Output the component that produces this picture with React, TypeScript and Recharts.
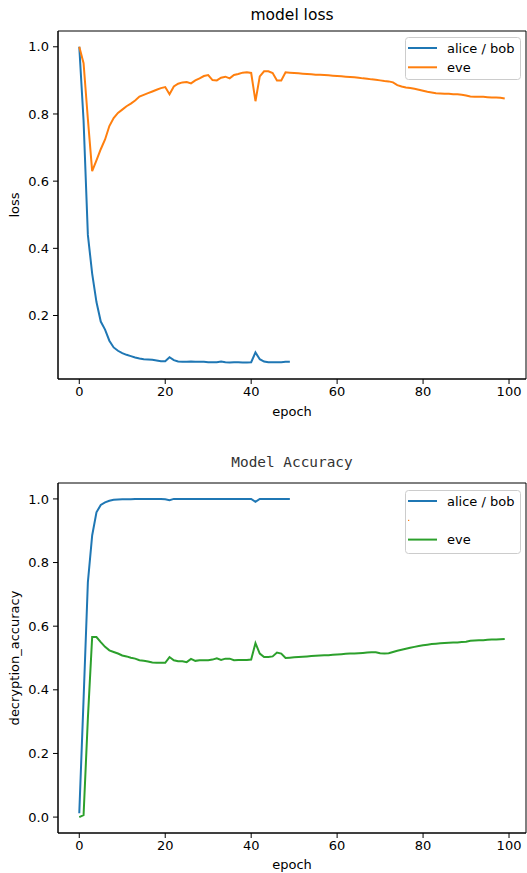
import React from 'react';
import { LineChart, Line, XAxis, YAxis, ReferenceArea } from 'recharts';

// epochs 0..99
const epochs: number[] = Array.from({ length: 100 }, (_, i) => i);

const aliceLoss: number[] = [
    1.0, 0.78, 0.44, 0.325, 0.24, 0.182, 0.158, 0.125, 0.105, 0.095,
    0.088, 0.083, 0.079, 0.075, 0.072, 0.07, 0.069, 0.068, 0.066, 0.064,
    0.064, 0.076, 0.067, 0.063, 0.062, 0.062, 0.063, 0.062, 0.062, 0.062,
    0.061, 0.061, 0.061, 0.063, 0.061, 0.06, 0.061, 0.061, 0.06, 0.06,
    0.061, 0.09, 0.07, 0.063, 0.061, 0.061, 0.061, 0.061, 0.062, 0.062,
];

const eveLoss: number[] = [
    1.0, 0.951, 0.785, 0.63, 0.662, 0.695, 0.724, 0.764, 0.788, 0.803,
    0.813, 0.823, 0.831, 0.84, 0.852, 0.857, 0.862, 0.867, 0.872, 0.877,
    0.88, 0.859, 0.882, 0.89, 0.894, 0.895, 0.891, 0.9, 0.906, 0.913,
    0.916, 0.901, 0.9, 0.908, 0.911, 0.906, 0.916, 0.919, 0.923, 0.924,
    0.922, 0.838, 0.912, 0.927, 0.927, 0.922, 0.9, 0.9, 0.924, 0.923,
    0.922, 0.921, 0.92, 0.919, 0.918, 0.917, 0.917, 0.916, 0.915, 0.914,
    0.913, 0.912, 0.911, 0.91, 0.909, 0.908, 0.906, 0.905, 0.903, 0.902,
    0.9, 0.898, 0.897, 0.894, 0.886, 0.882, 0.879, 0.877, 0.875, 0.872,
    0.869, 0.866, 0.864, 0.862, 0.861, 0.86, 0.86, 0.859, 0.859, 0.857,
    0.855, 0.852, 0.851, 0.851, 0.851, 0.85, 0.849, 0.849, 0.848, 0.846,
];

const aliceAcc: number[] = [
    0.012, 0.37, 0.738, 0.885, 0.958, 0.981, 0.989, 0.994, 0.997, 0.998,
    0.999, 0.999, 0.999, 1.0, 1.0, 1.0, 1.0, 1.0, 1.0, 1.0,
    0.999, 0.996, 1.0, 1.0, 1.0, 1.0, 1.0, 1.0, 1.0, 1.0,
    1.0, 1.0, 1.0, 1.0, 1.0, 1.0, 1.0, 1.0, 1.0, 1.0,
    1.0, 0.991, 1.0, 1.0, 1.0, 1.0, 1.0, 1.0, 1.0, 1.0,
];

const eveAcc: number[] = [
    0.0, 0.006, 0.31, 0.566, 0.566, 0.55, 0.535, 0.524, 0.519, 0.514,
    0.508, 0.505, 0.501, 0.498, 0.493, 0.491, 0.489, 0.486, 0.485, 0.485,
    0.485, 0.503, 0.493, 0.49, 0.49, 0.487, 0.497, 0.491, 0.493, 0.493,
    0.493, 0.495, 0.499, 0.494, 0.498, 0.498, 0.493, 0.494, 0.494, 0.494,
    0.495, 0.547, 0.514, 0.503, 0.503, 0.505, 0.517, 0.514, 0.5, 0.501,
    0.502, 0.503, 0.504, 0.505, 0.506, 0.507, 0.508, 0.509, 0.509, 0.51,
    0.511, 0.512, 0.513, 0.514, 0.514, 0.515, 0.516, 0.517, 0.518, 0.518,
    0.515, 0.514, 0.515, 0.519, 0.523, 0.526, 0.529, 0.532, 0.535, 0.538,
    0.54, 0.542, 0.544, 0.545, 0.546, 0.547, 0.548, 0.549, 0.549, 0.55,
    0.551, 0.554, 0.555, 0.556, 0.556, 0.557, 0.558, 0.558, 0.559, 0.56,
];

const xTicks = [0, 20, 40, 60, 80, 100];
const lossTicks = [0.2, 0.4, 0.6, 0.8, 1.0];
const accTicks = [0.0, 0.2, 0.4, 0.6, 0.8, 1.0];

const BLUE = '#1f77b4';
const ORANGE = '#ff7f0e';
const GREEN = '#2ca02c';
const FONT = 'DejaVu Sans, sans-serif';

const lossRows = epochs.map((e, i) => ({ epoch: e, alice: aliceLoss[i], eve: eveLoss[i] }));
const accRows = epochs.map((e, i) => ({ epoch: e, alice: aliceAcc[i], eve: eveAcc[i] }));

const tickStyle = { fontSize: 13, fill: '#000', fontFamily: FONT };
const X_DOMAIN: [number, number] = [-4.95, 103.95];
const LOSS_DOMAIN: [number, number] = [0.011, 1.047];
const ACC_DOMAIN: [number, number] = [-0.05, 1.05];

// matplotlib-ish legend box
const LegendBox: React.FC<{ rows: { label: string; color: string; dot?: boolean }[]; height: number }> = ({ rows, height }) => (
    <svg width={116} height={height} style={{ display: 'block' }}>
        <rect x={0.5} y={0.5} width={115} height={height - 1} rx={3} fill="rgba(255,255,255,0.8)" stroke="#cccccc" />
        {rows.map((r, i) => {
            const cy = 11 + i * 19.3;
            return (
                <g key={i}>
                    {r.dot ? (
                        <rect x={3} y={cy - 0.5} width={1.2} height={1.2} fill={r.color} />
                    ) : (
                        <line x1={3} x2={32} y1={cy} y2={cy} stroke={r.color} strokeWidth={2} />
                    )}
                    <text x={42} y={cy} dy="0.35em" fontSize={13} fontFamily={FONT} fill="#000">{r.label}</text>
                </g>
            );
        })}
    </svg>
);

const App: React.FC = () => {
    return (
        <div style={{ position: 'absolute', left: 0, top: 0, width: 527, height: 873, background: '#fff', fontFamily: FONT }}>
            {/* loss */}
            <div style={{ position: 'absolute', left: 58, top: 6, width: 468, textAlign: 'center', fontSize: 15.5, lineHeight: '18px', color: '#000' }}>
                model loss
            </div>
            <div style={{ position: 'absolute', left: 0, top: 0 }}>
                <LineChart width={527} height={420} data={lossRows} margin={{ top: 31, right: 1, bottom: 0, left: 0 }}>
                    <XAxis dataKey="epoch" type="number" domain={X_DOMAIN} allowDataOverflow ticks={xTicks}
                        height={41} tickSize={5} tickMargin={3} tick={tickStyle}
                        axisLine={{ stroke: '#000' }} tickLine={{ stroke: '#000' }}
                        label={{ value: 'epoch', position: 'insideBottom', offset: 4, style: { fontSize: 13, fill: '#000', fontFamily: FONT } }} />
                    <YAxis type="number" domain={LOSS_DOMAIN} allowDataOverflow ticks={lossTicks}
                        width={58} tickSize={5} tickMargin={4} tick={tickStyle} tickFormatter={(v: number) => v.toFixed(1)}
                        axisLine={{ stroke: '#000' }} tickLine={{ stroke: '#000' }}
                        label={{ value: 'loss', angle: -90, position: 'insideLeft', offset: 14, style: { textAnchor: 'middle', fontSize: 13, fill: '#000', fontFamily: FONT } }} />
                    <ReferenceArea x1={X_DOMAIN[0]} x2={X_DOMAIN[1]} y1={LOSS_DOMAIN[0]} y2={LOSS_DOMAIN[1]}
                        fill="none" fillOpacity={0} stroke="#000" strokeOpacity={1} ifOverflow="visible" />
                    <Line dataKey="alice" stroke={BLUE} strokeWidth={2} dot={false} activeDot={false} isAnimationActive={false} />
                    <Line dataKey="eve" stroke={ORANGE} strokeWidth={2} dot={false} activeDot={false} isAnimationActive={false} />
                </LineChart>
            </div>
            <div style={{ position: 'absolute', left: 405, top: 37 }}>
                <LegendBox height={43} rows={[{ label: 'alice / bob', color: BLUE }, { label: 'eve', color: ORANGE }]} />
            </div>

            {/* accuracy */}
            <div style={{ position: 'absolute', left: 58, top: 453, width: 468, textAlign: 'center', fontSize: 14.4, lineHeight: '18px', color: '#333', fontFamily: 'DejaVu Sans Mono, monospace' }}>
                Model Accuracy
            </div>
            <div style={{ position: 'absolute', left: 0, top: 440 }}>
                <LineChart width={527} height={433} data={accRows} margin={{ top: 43, right: 1, bottom: 0, left: 0 }}>
                    <XAxis dataKey="epoch" type="number" domain={X_DOMAIN} allowDataOverflow ticks={xTicks}
                        height={40} tickSize={5} tickMargin={3} tick={tickStyle}
                        axisLine={{ stroke: '#000' }} tickLine={{ stroke: '#000' }}
                        label={{ value: 'epoch', position: 'insideBottom', offset: 4, style: { fontSize: 13, fill: '#000', fontFamily: FONT } }} />
                    <YAxis type="number" domain={ACC_DOMAIN} allowDataOverflow ticks={accTicks}
                        width={58} tickSize={5} tickMargin={4} tick={tickStyle} tickFormatter={(v: number) => v.toFixed(1)}
                        axisLine={{ stroke: '#000' }} tickLine={{ stroke: '#000' }}
                        label={{ value: 'decryption_accuracy', angle: -90, position: 'insideLeft', offset: 14, style: { textAnchor: 'middle', fontSize: 13, fill: '#000', fontFamily: FONT } }} />
                    <ReferenceArea x1={X_DOMAIN[0]} x2={X_DOMAIN[1]} y1={ACC_DOMAIN[0]} y2={ACC_DOMAIN[1]}
                        fill="none" fillOpacity={0} stroke="#000" strokeOpacity={1} ifOverflow="visible" />
                    <Line dataKey="alice" stroke={BLUE} strokeWidth={2} dot={false} activeDot={false} isAnimationActive={false} />
                    <Line dataKey="eve" stroke={GREEN} strokeWidth={2} dot={false} activeDot={false} isAnimationActive={false} />
                </LineChart>
            </div>
            <div style={{ position: 'absolute', left: 405, top: 490 }}>
                <LegendBox height={64} rows={[{ label: 'alice / bob', color: BLUE }, { label: '', color: ORANGE, dot: true }, { label: 'eve', color: GREEN }]} />
            </div>
        </div>
    );
};

export default App;
